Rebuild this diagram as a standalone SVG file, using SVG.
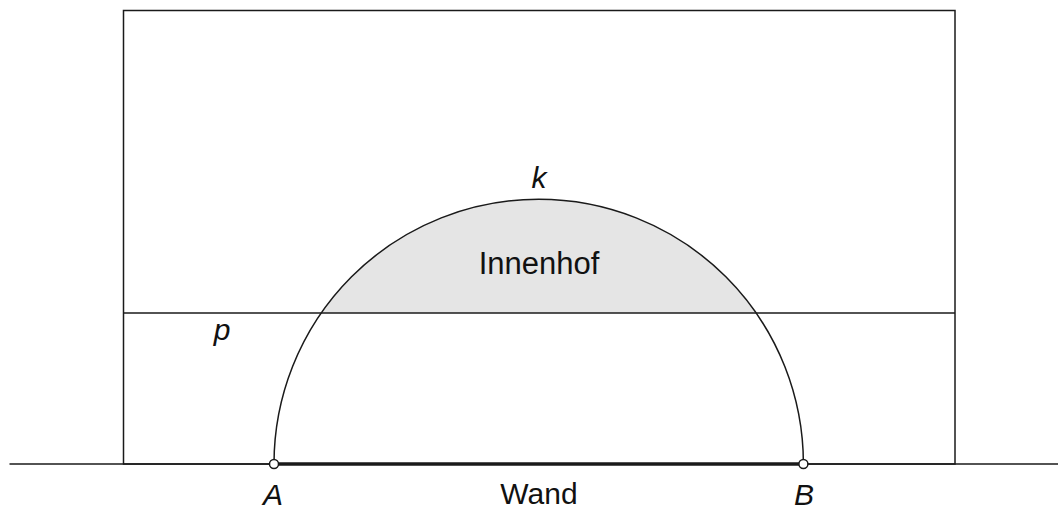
<svg xmlns="http://www.w3.org/2000/svg" width="1059" height="511" viewBox="0 0 1059 511">
<style>
.ln{fill:none;stroke:#1a1a1a;stroke-width:1.5}
.t{font-family:"Liberation Sans",Arial,sans-serif;font-size:30px;fill:#111}
.i{font-style:italic}
.pt{fill:#fff;stroke:#1a1a1a;stroke-width:1.5}
</style>
<rect width="1059" height="511" fill="#fff"/>
<g id="innenhof">
<path d="M321.2,313 A264.7,264.7 0 0 1 756.2,313 Z" fill="#e5e5e5" stroke="none"/>
</g>
<g id="connectors">
<rect id="rechteck" x="123.5" y="10.5" width="831.5" height="453.5" class="ln"/>
<line id="p-line" x1="123.5" y1="313" x2="955" y2="313" class="ln"/>
<line id="boden" x1="9.5" y1="464" x2="1058" y2="464" class="ln"/>
<path id="k-arc" d="M274,464 A264.7,264.7 0 0 1 803.4,464" class="ln"/>
<line id="wand" x1="274" y1="464" x2="803.4" y2="464" stroke="#1a1a1a" stroke-width="3.5"/>
</g>
<g id="A"><circle cx="274" cy="464" r="4.5" class="pt"/><text x="273" y="505" text-anchor="middle" class="t i">A</text></g>
<g id="B"><circle cx="803.4" cy="464" r="4.5" class="pt"/><text x="804" y="505" text-anchor="middle" class="t i">B</text></g>
<g id="labels">
<text x="539" y="504" text-anchor="middle" class="t">Wand</text>
<text x="539" y="274" text-anchor="middle" class="t" style="font-size:31px">Innenhof</text>
<text x="539" y="188" text-anchor="middle" class="t i">k</text>
<text x="222" y="340" text-anchor="middle" class="t i">p</text>
</g>
</svg>
